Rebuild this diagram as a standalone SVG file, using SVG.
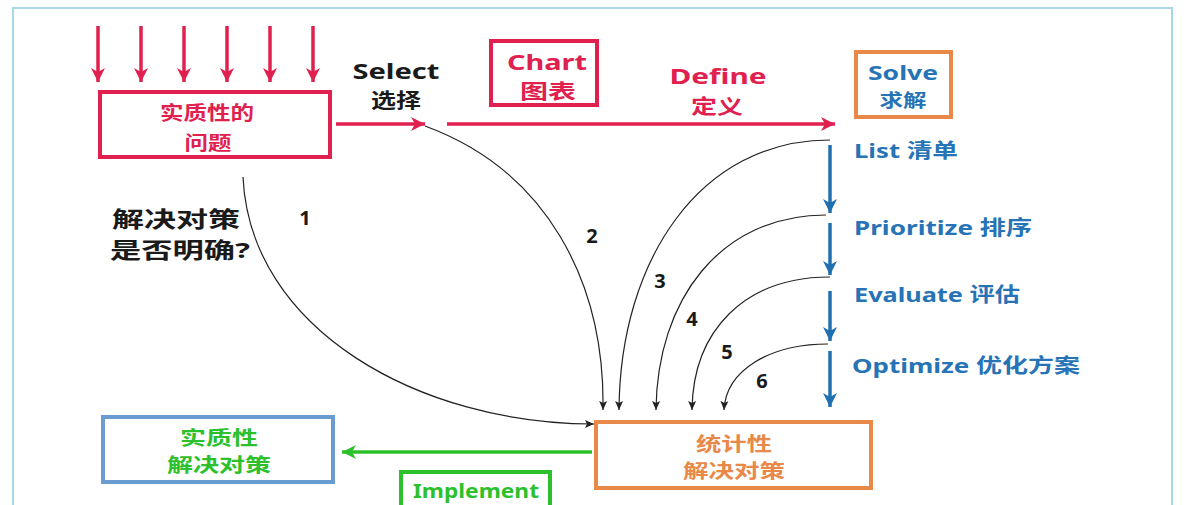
<svg xmlns="http://www.w3.org/2000/svg" width="1188" height="505" viewBox="0 0 1188 505">
<style>
.t{font-family:"Noto Sans","Noto Sans CJK SC",sans-serif;font-weight:bold;text-anchor:middle}
.red{fill:#e0204f}.blue{fill:#2673b5}.green{fill:#2cc12c}.orange{fill:#e8894a}.black{fill:#1a1a1a}
.lbl{font-family:"Noto Sans","Noto Sans CJK SC",sans-serif;font-weight:bold;fill:#2673b5;font-size:20px}
.num{font-family:"Noto Sans",sans-serif;font-weight:bold;fill:#1a1a1a;font-size:20px;text-anchor:middle}
.curve{fill:none;stroke:#222;stroke-width:1.2;marker-end:url(#ak)}
.redln{stroke:#e0204f;stroke-width:3.5;fill:none}
.blueln{stroke:#2070b0;stroke-width:3.5;fill:none;marker-end:url(#ab)}
</style>
<defs>
<marker id="ar" markerUnits="userSpaceOnUse" markerWidth="16" markerHeight="14" refX="14" refY="7" orient="auto"><path d="M0,0 L14,7 L0,14 L4,7 z" fill="#e0204f"/></marker>
<marker id="ab" markerUnits="userSpaceOnUse" markerWidth="16" markerHeight="14" refX="14" refY="7" orient="auto"><path d="M0,0 L14,7 L0,14 L4,7 z" fill="#2070b0"/></marker>
<marker id="ag" markerUnits="userSpaceOnUse" markerWidth="16" markerHeight="14" refX="14" refY="7" orient="auto"><path d="M0,0 L14,7 L0,14 L4,7 z" fill="#2cc12c"/></marker>
<marker id="ak" markerUnits="userSpaceOnUse" markerWidth="10" markerHeight="10" refX="9" refY="5" orient="auto"><path d="M0,1 L9,5 L0,9 L2,5 z" fill="#222"/></marker>
</defs>
<rect width="1188" height="505" fill="#fff"/>
<path d="M13,510 L13,8 L1172,8 L1172,510" fill="none" stroke="#a8d8e8" stroke-width="2"/>

<g id="connectors">
<path class="redln" marker-end="url(#ar)" d="M98,26 L98,82"/>
<path class="redln" marker-end="url(#ar)" d="M141,26 L141,82"/>
<path class="redln" marker-end="url(#ar)" d="M184,26 L184,82"/>
<path class="redln" marker-end="url(#ar)" d="M227,26 L227,82"/>
<path class="redln" marker-end="url(#ar)" d="M270,26 L270,82"/>
<path class="redln" marker-end="url(#ar)" d="M313,26 L313,82"/>
<path class="redln" marker-end="url(#ar)" d="M336,124 L425,124"/>
<path class="redln" marker-end="url(#ar)" d="M447,124 L835,124"/>
<path class="blueln" d="M830,145 L830,213"/>
<path class="blueln" d="M830,223 L830,275"/>
<path class="blueln" d="M830,291 L830,341"/>
<path class="blueln" d="M830,351 L830,407"/>
<path d="M592,452 L342,452" stroke="#2cc12c" stroke-width="3.5" fill="none" marker-end="url(#ag)"/>
<path class="curve" d="M243,177 C250,330 420,424 594,424"/>
<path class="curve" d="M425,126 C545,170 605,280 603,410"/>
<path class="curve" d="M830,140 C700,140 620,260 619,410"/>
<path class="curve" d="M826,215 C720,215 657,300 656,410"/>
<path class="curve" d="M830,277 C745,277 693,330 692,410"/>
<path class="curve" d="M828,344 C770,344 726,370 724,410"/>
</g>

<g id="problem">
<rect x="100" y="92" width="230" height="65" fill="none" stroke="#e0204f" stroke-width="4"/>
<text class="t red" x="207" y="120" font-size="19" textLength="94" lengthAdjust="spacingAndGlyphs">实质性的</text>
<text class="t red" x="208" y="150" font-size="19" textLength="47" lengthAdjust="spacingAndGlyphs">问题</text>
</g>

<g id="select">
<text class="t black" x="396" y="79" font-size="22" textLength="87" lengthAdjust="spacingAndGlyphs">Select</text>
<text class="t black" x="396" y="108" font-size="20" textLength="50" lengthAdjust="spacingAndGlyphs">选择</text>
</g>

<g id="chart">
<rect x="491" y="41" width="106" height="64" fill="none" stroke="#e0204f" stroke-width="4"/>
<text class="t red" x="547" y="70" font-size="22" textLength="80" lengthAdjust="spacingAndGlyphs">Chart</text>
<text class="t red" x="548" y="99" font-size="20" textLength="56" lengthAdjust="spacingAndGlyphs">图表</text>
</g>

<g id="define">
<text class="t red" x="718" y="84" font-size="22" textLength="97" lengthAdjust="spacingAndGlyphs">Define</text>
<text class="t red" x="717" y="114" font-size="20" textLength="52" lengthAdjust="spacingAndGlyphs">定义</text>
</g>

<g id="solve">
<rect x="856" y="52" width="95" height="65" fill="none" stroke="#e8894a" stroke-width="4"/>
<text class="t blue" x="903" y="80" font-size="20" textLength="70" lengthAdjust="spacingAndGlyphs">Solve</text>
<text class="t blue" x="903" y="107" font-size="18" textLength="47" lengthAdjust="spacingAndGlyphs">求解</text>
</g>

<g id="steps">
<text class="lbl" x="854" y="158" textLength="104" lengthAdjust="spacingAndGlyphs">List 清单</text>
<text class="lbl" x="854" y="235" textLength="178" lengthAdjust="spacingAndGlyphs">Prioritize 排序</text>
<text class="lbl" x="854" y="302" textLength="166" lengthAdjust="spacingAndGlyphs">Evaluate 评估</text>
<text class="lbl" x="852" y="373" textLength="228" lengthAdjust="spacingAndGlyphs">Optimize 优化方案</text>
</g>

<g id="question">
<text class="t black" x="176" y="227" font-size="22" textLength="128" lengthAdjust="spacingAndGlyphs">解决对策</text>
<text class="t black" x="180" y="258" font-size="22" textLength="140" lengthAdjust="spacingAndGlyphs">是否明确?</text>
</g>

<g id="numbers">
<text class="num" x="305" y="225">1</text>
<text class="num" x="592" y="243">2</text>
<text class="num" x="660" y="288">3</text>
<text class="num" x="692" y="326">4</text>
<text class="num" x="727" y="359">5</text>
<text class="num" x="762" y="388">6</text>
</g>

<g id="stat">
<rect x="596" y="422" width="275" height="66" fill="none" stroke="#e8894a" stroke-width="4"/>
<text class="t orange" x="734" y="451" font-size="19" textLength="76" lengthAdjust="spacingAndGlyphs">统计性</text>
<text class="t orange" x="734" y="478" font-size="19" textLength="102" lengthAdjust="spacingAndGlyphs">解决对策</text>
</g>

<g id="real">
<rect x="103" y="417" width="230" height="65" fill="none" stroke="#6a9bd1" stroke-width="4"/>
<text class="t green" x="219" y="445" font-size="19" textLength="78" lengthAdjust="spacingAndGlyphs">实质性</text>
<text class="t green" x="219" y="472" font-size="19" textLength="104" lengthAdjust="spacingAndGlyphs">解决对策</text>
</g>

<g id="implement">
<rect x="401" y="472" width="149" height="50" fill="none" stroke="#2cc12c" stroke-width="4"/>
<text class="t green" x="476" y="498" font-size="20" textLength="126" lengthAdjust="spacingAndGlyphs">Implement</text>
</g>
</svg>
